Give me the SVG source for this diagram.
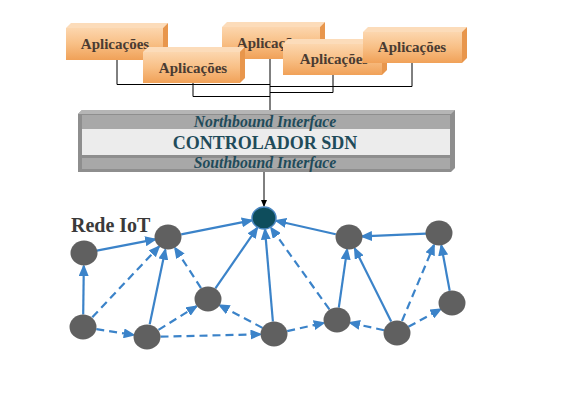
<svg xmlns="http://www.w3.org/2000/svg" width="575" height="417" viewBox="0 0 575 417">
<defs>
<linearGradient id="og" x1="0" y1="0" x2="0" y2="1">
<stop offset="0" stop-color="#fcd6ae"/>
<stop offset="0.5" stop-color="#f8bf85"/>
<stop offset="1" stop-color="#f0a158"/>
</linearGradient>
<marker id="ab" markerUnits="userSpaceOnUse" markerWidth="12" markerHeight="10" refX="10" refY="5" orient="auto">
<path d="M0,0 L12,5 L0,10 z" fill="#3b83c9"/>
</marker>
<marker id="ak" markerUnits="userSpaceOnUse" markerWidth="7" markerHeight="6" refX="6" refY="3" orient="auto">
<path d="M0,0 L7,3 L0,6 z" fill="#000"/>
</marker>
</defs>
<style>
.bt{fill:#fcdcba}
.br{fill:#e8964c}
.bf{fill:url(#og)}
.btx{font-family:"Liberation Serif",serif;font-weight:bold;font-size:15px;fill:#4a3b32;text-anchor:middle}
.ct{font-family:"Liberation Serif",serif;font-weight:bold;font-style:italic;font-size:15.7px;fill:#1f4b5a;text-anchor:middle}
.cm{font-family:"Liberation Serif",serif;font-weight:bold;font-size:18px;fill:#1f4b5a;text-anchor:middle}
.bl{fill:none;stroke:#000;stroke-width:1}
.e{fill:none;stroke:#3b83c9;stroke-width:2.2;marker-end:url(#ab)}
.d{stroke-dasharray:8 5}
.n{fill:#606060}
</style>
<rect width="575" height="417" fill="#fff"/>

<g id="connectors">
<g id="app-links">
<polyline class="bl" points="117,60 117,84.5 270,84.5"/>
<polyline class="bl" points="193,83 193,96.5 270,96.5"/>
<polyline class="bl" points="333,75 333,92.5 270,92.5"/>
<polyline class="bl" points="412,62 412,86.5 270,86.5"/>
<line class="bl" x1="270" y1="58" x2="270" y2="110"/>
</g>
<line x1="264" y1="172" x2="264" y2="206" stroke="#000" stroke-width="1" marker-end="url(#ak)"/>
<g id="iot-links">
<line class="e" x1="96.8" y1="250.6" x2="155.2" y2="239.4"/>
<line class="e" x1="83.2" y1="314.5" x2="83.8" y2="266"/>
<line class="e d" x1="92.3" y1="317.2" x2="159.1" y2="246.5"/>
<line class="e d" x1="96.3" y1="329.1" x2="133.7" y2="334.9"/>
<line class="e" x1="149.7" y1="324.3" x2="165.3" y2="249.7"/>
<line class="e d" x1="158.5" y1="329.9" x2="196.5" y2="306.2"/>
<line class="e d" x1="160.5" y1="336.7" x2="260.5" y2="334.3"/>
<line class="e d" x1="201" y1="288.1" x2="175" y2="247.9"/>
<line class="e" x1="215.4" y1="288.3" x2="257.2" y2="227.9"/>
<line class="e d" x1="262.5" y1="327.9" x2="219.5" y2="305.1"/>
<line class="e" x1="272.9" y1="321.5" x2="265" y2="229.6"/>
<line class="e" x1="181.2" y1="234.4" x2="251.7" y2="220.4"/>
<line class="e" x1="335.8" y1="234.2" x2="276.2" y2="220.7"/>
<line class="e d" x1="329.4" y1="309.4" x2="271" y2="227.8"/>
<line class="e d" x1="287.2" y1="331.1" x2="323.8" y2="322.9"/>
<line class="e" x1="338.8" y1="307.6" x2="347.1" y2="249.5"/>
<line class="e" x1="391.2" y1="321.4" x2="354.8" y2="248.6"/>
<line class="e d" x1="384" y1="330.2" x2="350" y2="322.8"/>
<line class="e d" x1="402" y1="321" x2="434" y2="245"/>
<line class="e d" x1="408.4" y1="326.8" x2="440.6" y2="309.2"/>
<line class="e" x1="449.7" y1="290.7" x2="441.3" y2="245.5"/>
<line class="e" x1="426" y1="233.6" x2="362" y2="236.4"/>
</g>
</g>

<g id="app1">
<polygon class="bt" points="66,28 71,23 168,23 163,28"/>
<polygon class="br" points="163,28 168,23 168,55 163,60"/>
<rect class="bf" x="66" y="28" width="97" height="32"/>
<text class="btx" x="115" y="49">Aplicações</text>
</g>
<g id="app3">
<polygon class="bt" points="222,27 227,22 325,22 320,27"/>
<polygon class="br" points="320,27 325,22 325,54 320,59"/>
<rect class="bf" x="222" y="27" width="98" height="32"/>
<text class="btx" x="271" y="48">Aplicações</text>
</g>
<g id="app2">
<polygon class="bt" points="143,52 148,47 245,47 240,52"/>
<polygon class="br" points="240,52 245,47 245,78 240,83"/>
<rect class="bf" x="143" y="52" width="97" height="31"/>
<text class="btx" x="193" y="73">Aplicações</text>
</g>
<g id="app4">
<polygon class="bt" points="283,44 288,39 387,39 382,44"/>
<polygon class="br" points="382,44 387,39 387,70 382,75"/>
<rect class="bf" x="283" y="44" width="99" height="31"/>
<text class="btx" x="334" y="64">Aplicações</text>
</g>
<g id="app5">
<polygon class="bt" points="363,32 368,27 467,27 462,32"/>
<polygon class="br" points="462,32 467,27 467,58 462,63"/>
<rect class="bf" x="363" y="32" width="99" height="31"/>
<text class="btx" x="412" y="52">Aplicações</text>
</g>

<g id="controller">
<polygon points="78,114 82,110 455,110 455,168 451,172 78,172" fill="#8e8e8e"/>
<polygon points="78,114 82,110 455,110 451,114" fill="#b5b5b5"/>
<rect x="82" y="115" width="368" height="14" fill="#a8a8a8"/>
<rect x="82" y="129" width="368" height="26" fill="#ececec"/>
<rect x="82" y="158" width="368" height="11" fill="#a8a8a8"/>
<text class="ct" x="265" y="127">Northbound Interface</text>
<text class="cm" x="265" y="149">CONTROLADOR SDN</text>
<text class="ct" x="265" y="168">Southbound Interface</text>
</g>

<g id="rede-label">
<text x="71" y="232" font-family="Liberation Serif, serif" font-weight="bold" font-size="20" fill="#3a3a3a">Rede IoT</text>
</g>

<g id="root"><ellipse cx="264" cy="218" rx="12" ry="11" fill="#0e4d5c" stroke="#4a86c0" stroke-width="1.5"/></g>
<g id="nA"><ellipse class="n" cx="84" cy="253" rx="13.5" ry="12.5"/></g>
<g id="nB"><ellipse class="n" cx="168" cy="237" rx="13.5" ry="12.5"/></g>
<g id="nC"><ellipse class="n" cx="208" cy="299" rx="13.5" ry="12.5"/></g>
<g id="nD"><ellipse class="n" cx="83" cy="327" rx="13.5" ry="12.5"/></g>
<g id="nE"><ellipse class="n" cx="147" cy="337" rx="13.5" ry="12.5"/></g>
<g id="nF"><ellipse class="n" cx="274" cy="334" rx="13.5" ry="12.5"/></g>
<g id="nG"><ellipse class="n" cx="349" cy="237" rx="13.5" ry="12.5"/></g>
<g id="nH"><ellipse class="n" cx="439" cy="233" rx="13.5" ry="12.5"/></g>
<g id="nI"><ellipse class="n" cx="452" cy="303" rx="13.5" ry="12.5"/></g>
<g id="nJ"><ellipse class="n" cx="337" cy="320" rx="13.5" ry="12.5"/></g>
<g id="nK"><ellipse class="n" cx="397" cy="333" rx="13.5" ry="12.5"/></g>
</svg>
